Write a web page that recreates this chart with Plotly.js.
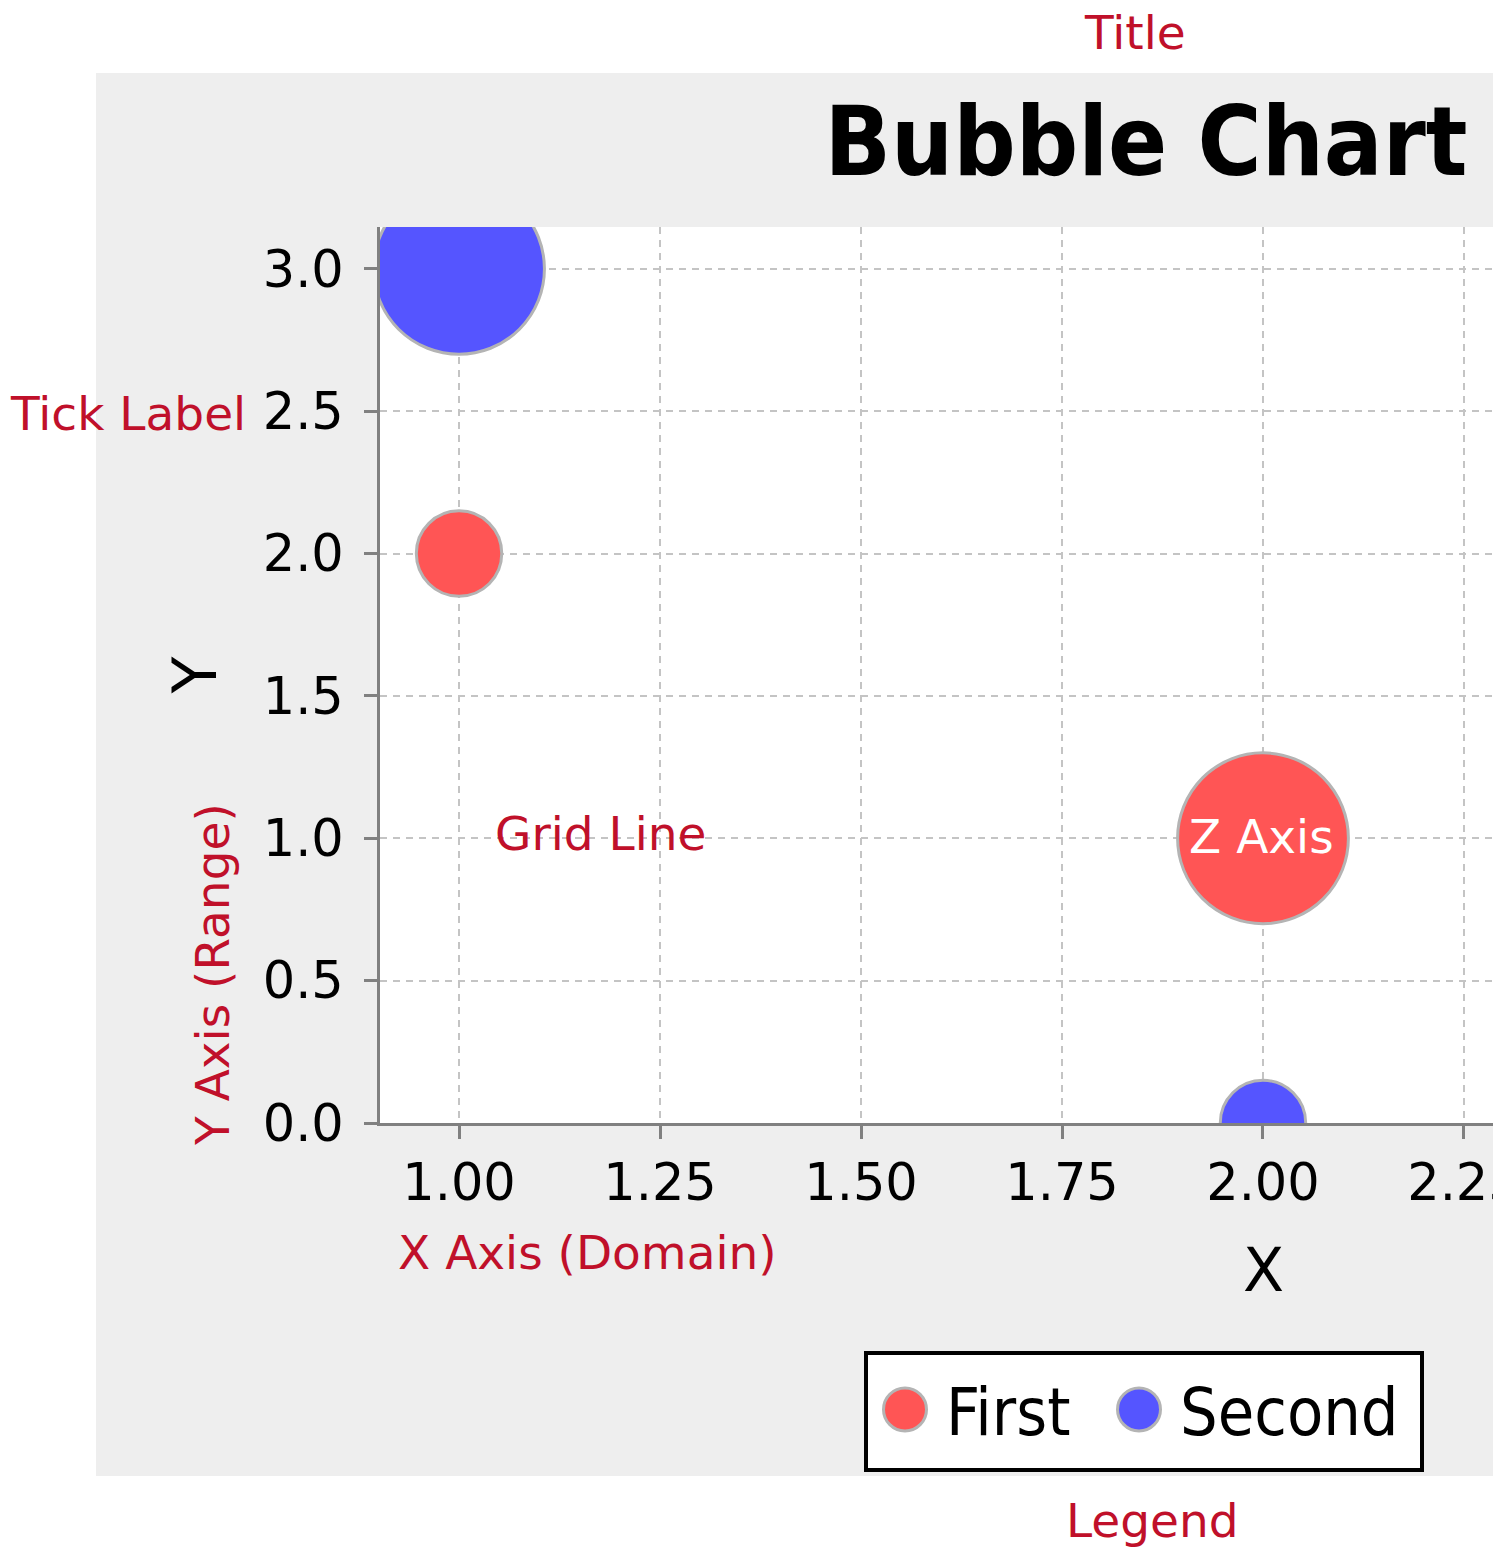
<!DOCTYPE html>
<html>
<head>
<meta charset="utf-8">
<script src="https://cdn.plot.ly/plotly-3.0.1.min.js"></script>
<style>
  html, body { margin: 0; padding: 0; background: #ffffff; overflow: hidden; }
  #chart { width: 1493px; height: 1547px; }
</style>
</head>
<body>
<div id="chart"></div>
<script>
// ---- data ----
const seriesNames = ["First", "Second"];
const firstX = [1, 2];
const firstY = [2, 1];
const firstZ = [0.3, 0.6];
const secondX = [1, 2];
const secondY = [3, 0];
const secondZ = [0.6, 0.3];

// ---- layout geometry ----
const W = 1493, H = 1547;
const M = { l: 380, r: 0, t: 227, b: 424 };
const plotW = W - M.l - M.r, plotH = H - M.t - M.b;
const xRange = [0.9017, 2.2861];
const yRange = [0, 3.147];

// bubble z is expressed in range-axis units -> diameter in pixels via the y scale
const pxPerY = plotH / (yRange[1] - yRange[0]);
const sizeRef = 1 / pxPerY;

const RED = "#FF5555", BLUE = "#5555FF", OUTLINE = "#B4B4B4", NOTE = "#C0102A";
const FONT = "DejaVu Sans, Verdana, sans-serif";
const CFONT = "DejaVu Sans Condensed, DejaVu Sans, sans-serif";

function px(x) { return (x - M.l) / plotW; }
function py(y) { return (H - M.b - y) / plotH; }

const traces = [
  { type: "scatter", mode: "markers", name: seriesNames[0], x: firstX, y: firstY,
    marker: { size: firstZ, sizemode: "diameter", sizeref: sizeRef, color: RED, opacity: 1,
              line: { color: OUTLINE, width: 3 } },
    legendwidth: 147,
    cliponaxis: true, hoverinfo: "x+y" },
  { type: "scatter", mode: "markers", name: seriesNames[1], x: secondX, y: secondY,
    marker: { size: secondZ, sizemode: "diameter", sizeref: sizeRef, color: BLUE, opacity: 1,
              line: { color: OUTLINE, width: 3 } },
    legendwidth: 230,
    cliponaxis: true, hoverinfo: "x+y" }
];

function note(text, x, y, opts) {
  return Object.assign({ text: text, xref: "paper", yref: "paper", x: px(x), y: py(y),
    showarrow: false, xanchor: "center", yanchor: "middle",
    font: { family: FONT, size: 47, color: NOTE } }, opts || {});
}

const layout = {
  width: W, height: H,
  margin: M,
  paper_bgcolor: "#ffffff",
  plot_bgcolor: "#ffffff",
  showlegend: true,
  title: { text: "Bubble Chart", xref: "container", yref: "container",
           x: 1146 / W, xanchor: "center", y: 1 - 141 / H, yanchor: "middle",
           font: { family: CFONT, size: 97, weight: "bold", color: "#000000" } },
  xaxis: {
    range: xRange, tick0: 1, dtick: 0.25, tickformat: ".2f",
    showline: true, linecolor: "#808080", linewidth: 3,
    ticks: "outside", ticklen: 13, tickwidth: 3, tickcolor: "#808080",
    ticklabelstandoff: 0, ticklabeloverflow: "allow",
    showgrid: true, gridcolor: "#C4C4C4", gridwidth: 2, griddash: "7px,6px",
    zeroline: false, mirror: false,
    tickfont: { family: FONT, size: 51, color: "#000000" }
  },
  yaxis: {
    range: yRange, tick0: 0, dtick: 0.5, tickformat: ".1f",
    showline: true, linecolor: "#808080", linewidth: 3,
    ticks: "outside", ticklen: 13, tickwidth: 3, tickcolor: "#808080",
    ticklabelstandoff: 10,
    showgrid: true, gridcolor: "#C4C4C4", gridwidth: 2, griddash: "7px,6px",
    zeroline: false,
    tickfont: { family: FONT, size: 51, color: "#000000" },
    title: { text: "Y", standoff: 27, font: { family: FONT, size: 60, color: "#000000" } }
  },
  legend: {
    orientation: "h", x: px(864), y: py(1360), xanchor: "left", yanchor: "top",
    bgcolor: "rgba(0,0,0,0)", borderwidth: 0, itemsizing: "constant", itemwidth: 72,
    font: { family: CFONT, size: 66, color: "#000000" }, itemclick: false
  },
  shapes: [
    { type: "rect", xref: "paper", yref: "paper", layer: "below",
      x0: px(96), x1: px(W), y0: py(1476), y1: py(73),
      fillcolor: "#EEEEEE", line: { width: 0 } },
    { type: "rect", xref: "paper", yref: "paper", layer: "below",
      x0: 0, x1: 1, y0: 0, y1: 1, fillcolor: "#FFFFFF", line: { width: 0 } },
    { type: "rect", xref: "paper", yref: "paper", layer: "below",
      x0: px(866), x1: px(1422), y0: py(1470), y1: py(1353),
      fillcolor: "#FFFFFF", line: { color: "#000000", width: 4 } }
  ],
  annotations: [
    { text: "X", xref: "paper", yref: "paper", x: px(1263), y: py(1270), showarrow: false,
      xanchor: "center", yanchor: "middle", font: { family: FONT, size: 60, color: "#000000" } },
    note("Title", 1135, 33),
    note("Tick Label", 248, 413, { xanchor: "right" }),
    note("Grid Line", 493, 833, { xanchor: "left" }),
    note("Z Axis", 1261, 836, { font: { family: FONT, size: 47, color: "#FFFFFF" } }),
    note("Y Axis (Range)", 212, 975, { textangle: -90 }),
    note("X Axis (Domain)", 396, 1252, { xanchor: "left" }),
    note("Legend", 1152, 1520)
  ]
};

Plotly.newPlot("chart", traces, layout, { displayModeBar: false, staticPlot: true }).then(function (gd) {
  // enlarge legend symbols to match the reference's legend swatches
  const target = 43, base = 12;
  const s = target / base;
  gd.querySelectorAll(".legend .legendpoints path.scatterpts").forEach(function (p) {
    const t = p.getAttribute("transform") || "";
    p.setAttribute("transform", t + " scale(" + s + ")");
    p.style.strokeWidth = (3 / s) + "px";
  });
});
</script>
</body>
</html>
